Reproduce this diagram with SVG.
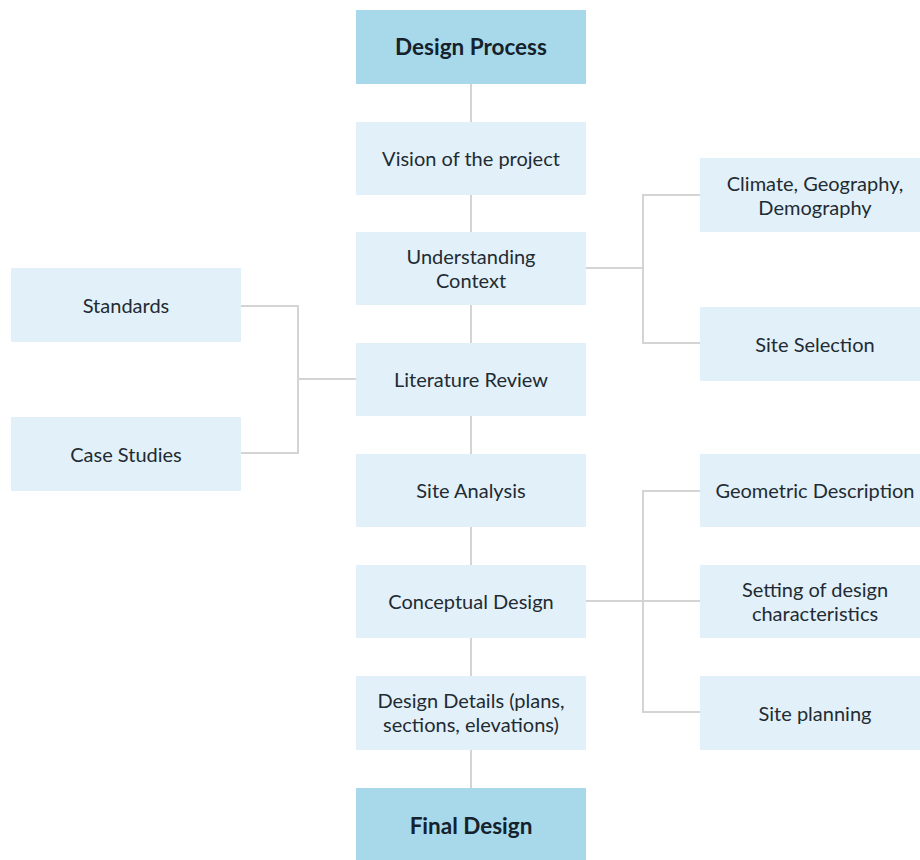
<svg xmlns="http://www.w3.org/2000/svg" width="920" height="860" viewBox="0 0 920 860">
<style>
.box{fill:#e2f1f9}
.head{fill:#a7d9ea}
.t{font-family:Lato,"Noto Sans",sans-serif;font-size:20px;fill:#222b33;text-anchor:middle}
.b{font-weight:bold;font-size:22.5px;fill:#15212b}
.c{fill:none;stroke:#d4d4d4;stroke-width:2}
</style>
<rect width="920" height="860" fill="#ffffff"/>
<g id="connectors">
<path class="c" d="M471 84V122M471 195V232M471 305V343M471 416V454M471 527V565M471 638V676M471 750V788"/>
<path class="c" d="M241 306H298V453H241M298 379H356"/>
<path class="c" d="M586 268H643M700 195H643V343H700"/>
<path class="c" d="M586 601H700M700 491H643V712H700"/>
</g>
<g id="n_design_process"><rect class="head" x="356" y="10" width="230" height="74"/><text class="t b" x="471" y="55">Design Process</text></g>
<g id="n_vision"><rect class="box" x="356" y="122" width="230" height="73"/><text class="t" x="471" y="166">Vision of the project</text></g>
<g id="n_understanding"><rect class="box" x="356" y="232" width="230" height="73"/><text class="t" x="471" y="264">Understanding</text><text class="t" x="471" y="288">Context</text></g>
<g id="n_literature"><rect class="box" x="356" y="343" width="230" height="73"/><text class="t" x="471" y="387">Literature Review</text></g>
<g id="n_site_analysis"><rect class="box" x="356" y="454" width="230" height="73"/><text class="t" x="471" y="498">Site Analysis</text></g>
<g id="n_conceptual"><rect class="box" x="356" y="565" width="230" height="73"/><text class="t" x="471" y="609">Conceptual Design</text></g>
<g id="n_details"><rect class="box" x="356" y="676" width="230" height="74"/><text class="t" x="471" y="708">Design Details (plans,</text><text class="t" x="471" y="732">sections, elevations)</text></g>
<g id="n_final"><rect class="head" x="356" y="788" width="230" height="72"/><text class="t b" x="471" y="834">Final Design</text></g>
<g id="n_standards"><rect class="box" x="11" y="268" width="230" height="74"/><text class="t" x="126" y="313">Standards</text></g>
<g id="n_case"><rect class="box" x="11" y="417" width="230" height="74"/><text class="t" x="126" y="462">Case Studies</text></g>
<g id="n_climate"><rect class="box" x="700" y="158" width="230" height="74"/><text class="t" x="815" y="191">Climate, Geography,</text><text class="t" x="815" y="215">Demography</text></g>
<g id="n_site_selection"><rect class="box" x="700" y="307" width="230" height="74"/><text class="t" x="815" y="352">Site Selection</text></g>
<g id="n_geometric"><rect class="box" x="700" y="454" width="230" height="73"/><text class="t" x="815" y="498">Geometric Description</text></g>
<g id="n_setting"><rect class="box" x="700" y="565" width="230" height="73"/><text class="t" x="815" y="597">Setting of design</text><text class="t" x="815" y="621">characteristics</text></g>
<g id="n_site_planning"><rect class="box" x="700" y="676" width="230" height="74"/><text class="t" x="815" y="721">Site planning</text></g>
</svg>
